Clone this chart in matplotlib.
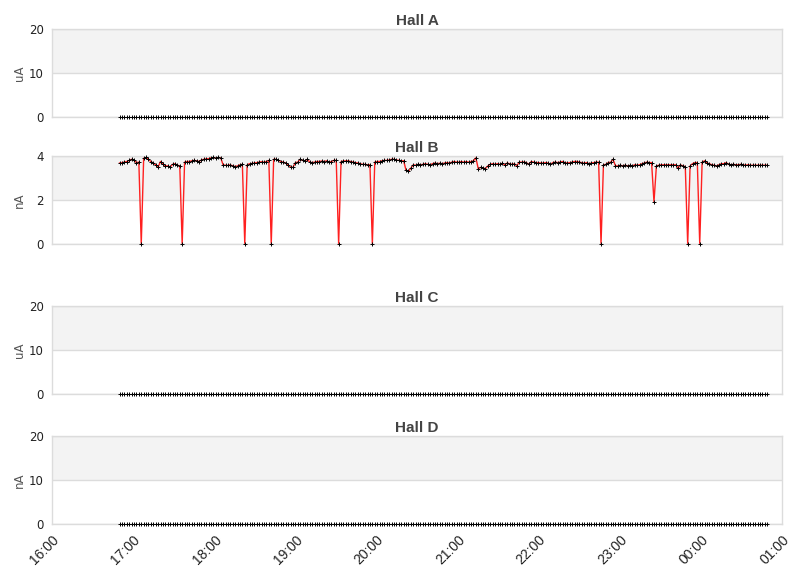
import numpy as np
import pandas as pd
import matplotlib
matplotlib.use("Agg")
import matplotlib.pyplot as plt
import matplotlib.dates as mdates

# ---------------- data ----------------
halls = ["Hall A", "Hall B", "Hall C", "Hall D"]
units = ["uA", "nA", "uA", "nA"]
yticks = [[0, 10, 20], [0, 2, 4], [0, 10, 20], [0, 10, 20]]
shade_bands = [(10, 20), (2, 4), (10, 20), (10, 20)]

hall_b = (
    [3.68, 3.7, 3.72, 3.75, 3.8, 3.85, 3.8, 3.7, 3.72]
    + [0]
    + [3.9, 3.95, 3.85, 3.75, 3.68, 3.6, 3.5, 3.75, 3.65, 3.55, 3.55, 3.5, 3.62, 3.65, 3.58, 3.55]
    + [0]
    + [3.72, 3.75, 3.75, 3.78, 3.8, 3.78, 3.75, 3.82, 3.85, 3.87, 3.88, 3.92, 3.95, 3.9, 3.95, 3.92]
    + [3.6, 3.58, 3.57, 3.6, 3.55, 3.52, 3.55, 3.6, 3.62]
    + [0]
    + [3.6, 3.65, 3.66, 3.68, 3.7, 3.72, 3.74, 3.72, 3.75, 3.8]
    + [0]
    + [3.85, 3.85, 3.8, 3.75, 3.72, 3.68, 3.6, 3.5, 3.48, 3.7, 3.72, 3.85, 3.8, 3.78,
       3.85, 3.72, 3.7, 3.72, 3.75, 3.75, 3.77, 3.75, 3.78, 3.72, 3.75, 3.8, 3.8]
    + [0]
    + [3.75, 3.77, 3.78, 3.78, 3.75, 3.72, 3.7, 3.68, 3.65, 3.62, 3.62, 3.6, 3.6]
    + [0]
    + [3.72, 3.75, 3.75, 3.78, 3.8, 3.8, 3.82, 3.85, 3.85, 3.82, 3.8, 3.78, 3.78]
    + [3.35, 3.3, 3.45, 3.6]
    + [3.58, 3.62, 3.6, 3.62, 3.65, 3.62, 3.6, 3.65, 3.68, 3.65, 3.67, 3.65, 3.68,
       3.7, 3.68, 3.72, 3.75, 3.72, 3.72, 3.75, 3.72, 3.75, 3.72, 3.75, 3.78]
    + [3.92]
    + [3.42, 3.48, 3.45, 3.43]
    + [3.55, 3.62, 3.65, 3.62, 3.65, 3.62, 3.67, 3.6, 3.68, 3.65, 3.62, 3.65]
    + [3.55]
    + [3.72, 3.72, 3.73, 3.7, 3.62]
    + [3.75, 3.72, 3.7, 3.7, 3.68, 3.68, 3.7, 3.68, 3.62, 3.7, 3.72, 3.7, 3.72, 3.75,
       3.7, 3.68, 3.7, 3.72, 3.75, 3.75]
    + [3.72, 3.7, 3.67, 3.7, 3.65, 3.68, 3.7, 3.72, 3.72]
    + [0]
    + [3.6, 3.62, 3.7, 3.72, 3.85, 3.55, 3.55, 3.58, 3.55, 3.58, 3.55, 3.57, 3.55, 3.6,
       3.58, 3.6, 3.65, 3.68, 3.72, 3.7, 3.7]
    + [1.92]
    + [3.55, 3.58, 3.6, 3.6, 3.6, 3.6, 3.6, 3.6, 3.6, 3.45, 3.6, 3.55, 3.52]
    + [0]
    + [3.55, 3.65, 3.7, 3.7]
    + [0]
    + [3.72, 3.78, 3.68, 3.65, 3.6, 3.58, 3.55, 3.6, 3.65, 3.65, 3.7, 3.62, 3.6, 3.62,
       3.6, 3.6, 3.62, 3.6, 3.58, 3.6, 3.58, 3.58, 3.58, 3.58, 3.58, 3.58, 3.58, 3.58]
)
N = len(hall_b)
hall_a = [0.0] * N
hall_c = [0.0] * N
hall_d = [0.0] * N
series = [hall_a, hall_b, hall_c, hall_d]

data_start = pd.Timestamp("2024-01-01 16:50")
data_end = pd.Timestamp("2024-01-02 00:49")
times = pd.date_range(data_start, data_end, periods=N)
x_start = pd.Timestamp("2024-01-01 16:00")
x_end = pd.Timestamp("2024-01-02 01:00")
tick_times = pd.date_range(x_start, x_end, freq="1h")

# ---------------- figure ----------------
W, H = 811, 578
fig = plt.figure(figsize=(W / 100, H / 100), dpi=100)
fig.patch.set_facecolor("white")

boxes = [(29, 117), (156, 244), (306, 394), (436, 524)]
left_px, right_px = 52, 782

grid_col = "#dcdcdc"
shade_col = "#f3f3f3"

for k, (top, bot) in enumerate(boxes):
    ax = fig.add_axes([left_px / W, 1 - bot / H, (right_px - left_px) / W, (bot - top) / H])
    ymax = yticks[k][-1]
    ax.set_ylim(0, ymax)
    ax.set_xlim(x_start, x_end)
    lo, hi = shade_bands[k]
    ax.axhspan(lo, hi, color=shade_col, zorder=0, lw=0)
    for yt in yticks[k]:
        ax.axhline(yt, color=grid_col, lw=1, zorder=0.5)
    ax.set_yticks(yticks[k])
    ax.set_xticks(tick_times)
    for sp in ax.spines.values():
        sp.set_color(grid_col)
        sp.set_linewidth(1)
    ax.tick_params(axis="both", length=0, labelsize=8.5, colors="#222222")
    ax.tick_params(axis="y", pad=6)
    ax.set_ylabel(units[k], fontsize=8.5, color="#555555")
    ax.yaxis.set_label_coords(-0.036, 0.5)
    ax.set_title(halls[k], fontsize=11, fontweight="bold", color="#444444",
                 family="Liberation Sans", pad=3)
    vals = series[k]
    if k == 1:
        ax.plot(times, vals, color="#ff2020", lw=1.0, zorder=2, clip_on=False)
    ax.plot(times, vals, ls="none", marker="+", ms=2.2, mew=0.7,
            color="black", zorder=3, clip_on=False)
    ax.xaxis.set_major_formatter(mdates.DateFormatter("%H:%M"))
    if k == 3:
        for lab in ax.get_xticklabels():
            lab.set_rotation(45)
            lab.set_ha("right")
            lab.set_rotation_mode("anchor")
            lab.set_fontsize(10)
            lab.set_family("Liberation Sans")
            lab.set_color("#222222")
        ax.tick_params(axis="x", pad=6)
    else:
        ax.tick_params(axis="x", labelbottom=False)

fig.savefig("out.png", dpi=100)
